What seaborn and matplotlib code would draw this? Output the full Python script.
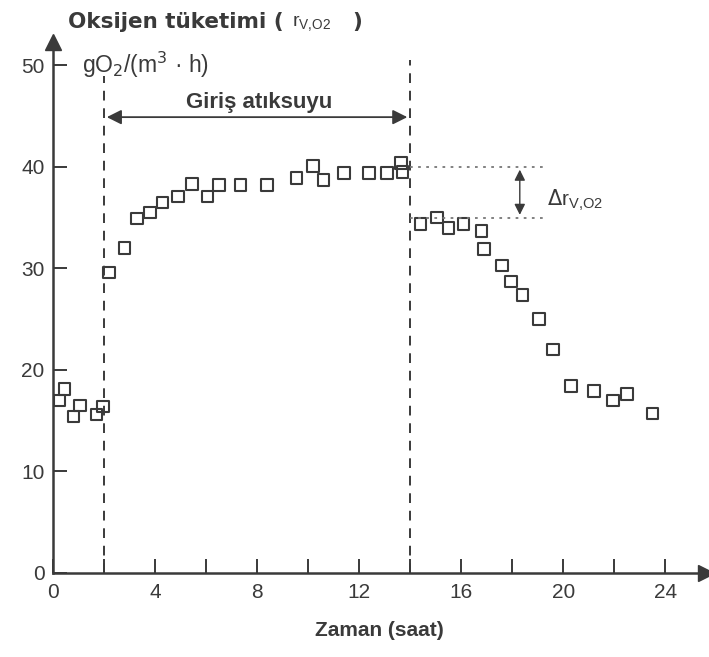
import numpy as np
import pandas as pd
import matplotlib
matplotlib.use('Agg')
import matplotlib.pyplot as plt
import seaborn as sns

# values (time in hours, oxygen uptake gO2/(m3 h))
zaman = [0.25, 0.45, 0.8, 1.05, 1.7, 1.95,
         2.2, 2.8, 3.3, 3.8, 4.3, 4.9, 5.45, 6.05, 6.5, 7.35, 8.4,
         9.55, 10.2, 10.6, 11.4, 12.4, 13.1, 13.65, 13.7,
         14.4, 15.05, 15.5, 16.1, 16.8, 16.9, 17.6, 17.95, 18.4,
         19.05, 19.6, 20.3, 21.2, 21.95, 22.5, 23.5]
tuketim = [17.0, 18.1, 15.4, 16.5, 15.6, 16.4,
           29.6, 32.0, 34.9, 35.5, 36.5, 37.1, 38.3, 37.1, 38.2, 38.2, 38.2,
           38.9, 40.1, 38.7, 39.4, 39.4, 39.4, 40.4, 39.5,
           34.4, 35.0, 34.0, 34.4, 33.7, 31.9, 30.3, 28.7, 27.4,
           25.0, 22.0, 18.4, 17.9, 17.0, 17.6, 15.7]
giris_basla, giris_bit = 2, 14
ust_seviye, alt_seviye = 40, 35
x_etiketler = [0, 4, 8, 12, 16, 20, 24]
y_etiketler = [0, 10, 20, 30, 40, 50]

df = pd.DataFrame({'Zaman': zaman, 'Tuketim': tuketim})

sns.set_style('white')
plt.rcParams['font.family'] = ['Liberation Sans', 'DejaVu Sans']
renk = '#3a3a3a'

fig = plt.figure(figsize=(7.09, 6.57), dpi=100)
W, H = 709, 657
ax = fig.add_axes([53 / W, 1 - 573 / H, (706 - 53) / W, (573 - 42) / H])

sns.scatterplot(data=df, x='Zaman', y='Tuketim', ax=ax, marker='s', s=70,
                facecolors='none', edgecolor=renk, linewidth=1.5, legend=False)

ax.set_xlim(0, 25.6)
ax.set_ylim(0, 52.3)
ax.set_xticks(x_etiketler)
ax.set_xticks(np.arange(2, 24, 4), minor=True)
ax.set_yticks(y_etiketler)
ax.tick_params(axis='both', which='both', direction='in', length=10, width=1.4,
               color=renk, labelsize=15, labelcolor=renk, bottom=True, left=True)
ax.tick_params(axis='x', pad=7)
ax.tick_params(axis='y', pad=6)
ax.set_xlabel('Zaman (saat)', fontsize=15, fontweight='bold', color=renk, labelpad=14)
ax.set_ylabel('')

for s in ['top', 'right']:
    ax.spines[s].set_visible(False)
for s in ['left', 'bottom']:
    ax.spines[s].set_color(renk)
    ax.spines[s].set_linewidth(1.8)

# axis arrows
ax.plot(1, 0, '>', color=renk, ms=11, transform=ax.get_yaxis_transform(), clip_on=False)
ax.plot(0, 1, '^', color=renk, ms=11, transform=ax.get_xaxis_transform(), clip_on=False)

# dashed lines marking the inflow period
ax.plot([giris_basla, giris_basla], [0, 49.0], ls=(0, (5, 4)), color=renk, lw=1.4)
ax.plot([giris_bit, giris_bit], [0, 50.5], ls=(0, (5, 4)), color=renk, lw=1.4)
ax.annotate('', xy=(giris_basla, 44.9), xytext=(giris_bit, 44.9),
            arrowprops=dict(arrowstyle='<|-|>', color=renk, lw=1.3, mutation_scale=22))
ax.text(8.1, 46.3, 'Giriş atıksuyu', ha='center', va='center', fontsize=16,
        fontweight='bold', color=renk)

# delta r annotation
ax.plot([giris_bit, 19.3], [ust_seviye, ust_seviye], ls=(0, (1.5, 3)), color='#777777', lw=1.3)
ax.plot([giris_bit, 19.3], [alt_seviye, alt_seviye], ls=(0, (1.5, 3)), color='#777777', lw=1.3)
ax.annotate('', xy=(18.3, ust_seviye), xytext=(18.3, alt_seviye),
            arrowprops=dict(arrowstyle='<|-|>', color=renk, lw=1.0, mutation_scale=16))
ax.text(19.35, 36.7, r'$\Delta$r$_{\mathregular{V{,}O2}}$', ha='left', va='center',
        fontsize=15, color=renk)

ax.text(1.15, 50.0, r'gO$_2$/(m$^3$ · h)', ha='left', va='center', fontsize=16.5,
        color=renk, zorder=5)

fig.text(68 / W, 1 - 22 / H, 'Oksijen tüketimi (', ha='left', va='center',
         fontsize=15.5, fontweight='bold', color=renk, family='DejaVu Sans')
fig.text(292 / W, 1 - 24 / H, r'r$_{\mathregular{V{,}O2}}$', ha='left', va='center',
         fontsize=14, color=renk)
fig.text(352 / W, 1 - 22 / H, ')', ha='left', va='center',
         fontsize=15.5, fontweight='bold', color=renk, family='DejaVu Sans')

fig.savefig('out.png', dpi=100)
